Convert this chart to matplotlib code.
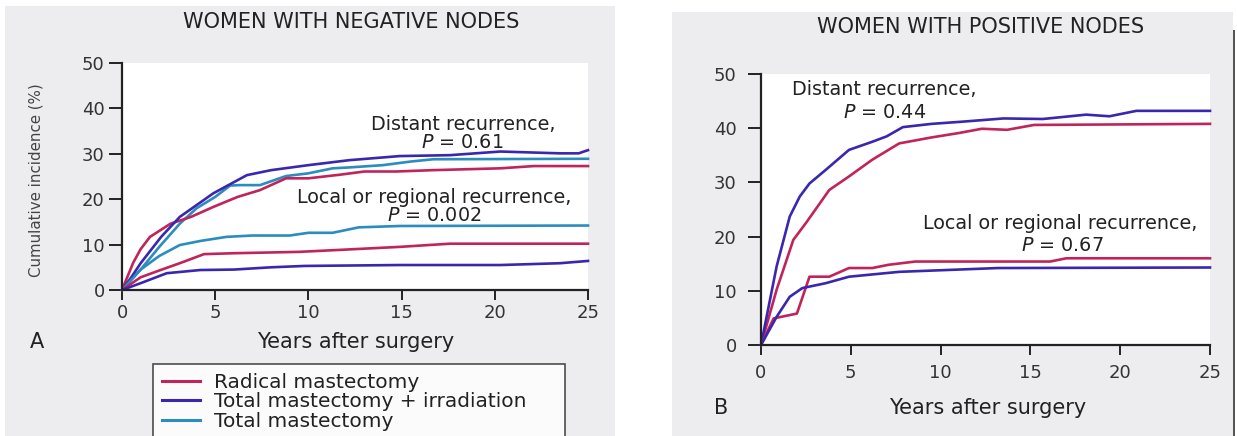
import matplotlib
matplotlib.use("Agg")
import matplotlib.pyplot as plt
from matplotlib.patches import Rectangle

plt.rcParams['font.family'] = ['DejaVu Sans']
plt.rcParams['mathtext.fontset'] = 'dejavusans'

# ---- data (years after surgery, cumulative incidence %) ----
# women with negative nodes
neg_rad_dist_x = [0, 0.3, 0.6, 1.0, 1.5, 2.6, 3.7, 4.9, 6.2, 7.4, 8.8, 10, 11.7, 13, 14.7, 16.7, 20.3, 22.1, 25]
neg_rad_dist_y = [0, 3.0, 6.0, 9.0, 11.7, 14.6, 16.1, 18.3, 20.5, 22.0, 24.6, 24.6, 25.4, 26.1, 26.1, 26.4, 26.8, 27.3, 27.3]
neg_tmi_dist_x = [0, 0.5, 1.0, 2.1, 3.1, 4.9, 6.7, 8.0, 10, 12.2, 14.9, 17.6, 20.3, 23.5, 24.5, 25]
neg_tmi_dist_y = [0, 2.8, 5.9, 11.7, 16.1, 21.3, 25.3, 26.4, 27.5, 28.6, 29.5, 29.7, 30.5, 30.1, 30.1, 30.8]
neg_tm_dist_x = [0, 1.0, 2.0, 3.1, 4.0, 5.0, 5.8, 6.3, 7.4, 8.8, 10, 11.3, 12.2, 14.0, 15.5, 16.7, 25]
neg_tm_dist_y = [0, 4.5, 9.5, 14.6, 18.0, 20.5, 23.0, 23.1, 23.1, 25.1, 25.7, 26.8, 27.0, 27.5, 28.3, 28.8, 28.9]

neg_rad_loc_x = [0, 1, 2, 3.1, 4.4, 6, 9.5, 12, 14.9, 17.6, 25]
neg_rad_loc_y = [0, 2.8, 4.3, 5.9, 7.9, 8.1, 8.4, 8.9, 9.5, 10.2, 10.2]
neg_tmi_loc_x = [0, 1, 2.4, 4.2, 6, 8, 9.8, 14.9, 20.3, 23.5, 25]
neg_tmi_loc_y = [0, 1.5, 3.7, 4.4, 4.5, 5.0, 5.3, 5.5, 5.5, 5.9, 6.4]
neg_tm_loc_x = [0, 1, 2, 3.1, 4.2, 5.6, 7, 9, 10, 11.3, 12.7, 14.9, 25]
neg_tm_loc_y = [0, 4.5, 7.5, 9.9, 10.8, 11.7, 12.0, 12.0, 12.6, 12.6, 13.8, 14.1, 14.2]

# women with positive nodes
pos_rad_dist_x = [0, 0.87, 1.8, 2.5, 3.8, 4.9, 6.2, 7.7, 9.5, 11.0, 12.3, 13.7, 15.2, 25]
pos_rad_dist_y = [0, 10.2, 19.4, 22.5, 28.6, 31.1, 34.2, 37.2, 38.3, 39.1, 39.9, 39.7, 40.6, 40.8]
pos_tmi_dist_x = [0, 0.87, 1.6, 2.16, 2.7, 3.6, 4.9, 6.2, 7.0, 7.9, 9.5, 11.2, 13.5, 15.7, 18.1, 19.4, 20.9, 25]
pos_tmi_dist_y = [0, 14.5, 23.7, 27.4, 29.8, 32.3, 36.0, 37.5, 38.5, 40.2, 40.8, 41.2, 41.8, 41.7, 42.5, 42.2, 43.2, 43.2]

pos_rad_loc_x = [0, 0.7, 2.0, 2.7, 3.8, 4.9, 6.2, 7.1, 8.6, 16.1, 17.0, 25]
pos_rad_loc_y = [0, 4.9, 5.8, 12.6, 12.6, 14.2, 14.2, 14.8, 15.4, 15.4, 16.0, 16.0]
pos_tmi_loc_x = [0, 0.87, 1.6, 2.3, 3.6, 4.9, 7.7, 13.2, 25]
pos_tmi_loc_y = [0, 5.2, 8.9, 10.5, 11.4, 12.6, 13.5, 14.2, 14.3]

legend_labels = ["Radical mastectomy", "Total mastectomy + irradiation", "Total mastectomy"]
x_ticks = [0, 5, 10, 15, 20, 25]
y_ticks = [0, 10, 20, 30, 40, 50]

RED = "#c0245a"
BLUE = "#3a27b0"
TEAL = "#2b8cc0"
INK = "#222222"
LW = 1.9

W, H = 1237, 436
fig = plt.figure(figsize=(W / 100, H / 100), dpi=100)
fig.patch.set_facecolor("white")


def px(x, y):
    return x / W, 1 - y / H


# scanned grey panels
fig.patches.append(Rectangle((5 / W, 0), 610 / W, 430 / H, transform=fig.transFigure,
                             facecolor="#ededf0", edgecolor="none", zorder=-5))
fig.patches.append(Rectangle((672 / W, 0), 561 / W, 424 / H, transform=fig.transFigure,
                             facecolor="#ededf0", edgecolor="none", zorder=-5))
fig.patches.append(Rectangle((1233 / W, 0), 2 / W, 406 / H, transform=fig.transFigure,
                             facecolor="#555555", edgecolor="none", zorder=-4))


def style_axes(ax, xpad, ypad):
    ax.set_xlim(0, 25)
    ax.set_ylim(0, 50)
    ax.set_facecolor("white")
    for s in ["top", "right"]:
        ax.spines[s].set_visible(False)
    for s in ["left", "bottom"]:
        ax.spines[s].set_linewidth(1.6)
        ax.spines[s].set_color(INK)
    ax.set_xticks(x_ticks)
    ax.set_yticks(y_ticks)
    ax.tick_params(direction="out", width=1.4, colors=INK, labelsize=13)
    ax.tick_params(axis="x", length=7, pad=xpad)
    ax.tick_params(axis="y", length=9.5, pad=ypad)
    for lab in ax.get_xticklabels() + ax.get_yticklabels():
        lab.set_color("#333333")


def ann(x, y, s, size=13.8):
    fig.text(*px(x, y), s, ha="center", va="center", fontsize=size, color=INK)


# ---- panel A ----
axA = fig.add_axes([122 / W, 1 - 290 / H, 466 / W, 227 / H])
style_axes(axA, 3, 3)
axA.plot(neg_tm_dist_x, neg_tm_dist_y, color=TEAL, lw=LW)
axA.plot(neg_rad_dist_x, neg_rad_dist_y, color=RED, lw=LW)
axA.plot(neg_tmi_dist_x, neg_tmi_dist_y, color=BLUE, lw=LW)
axA.plot(neg_tm_loc_x, neg_tm_loc_y, color=TEAL, lw=LW)
axA.plot(neg_rad_loc_x, neg_rad_loc_y, color=RED, lw=LW)
axA.plot(neg_tmi_loc_x, neg_tmi_loc_y, color=BLUE, lw=LW)
for ln in axA.lines:
    ln.set_clip_on(False)

ann(351, 22, "WOMEN WITH NEGATIVE NODES", 15)
fig.text(*px(36, 180), "Cumulative incidence (%)", ha="center", va="center",
         rotation=90, fontsize=10.8, color="#444444")
ann(356, 342, "Years after surgery", 15)
ann(37, 342, "A", 15)
ann(463, 124, "Distant recurrence,")
ann(462, 143, "$\\mathit{P}$ = 0.61")
ann(434, 197, "Local or regional recurrence,")
ann(434, 215, "$\\mathit{P}$ = 0.002")

handles = [plt.Line2D([], [], color=c, lw=2.2) for c in (RED, BLUE, TEAL)]
leg = fig.legend(handles, legend_labels, loc="upper left", mode="expand",
                 bbox_to_anchor=(153 / W, 1 - 364 / H, 412 / W, 0.0), fontsize=14.5,
                 frameon=True, fancybox=False, handlelength=1.9,
                 handletextpad=0.7, labelspacing=0.02, borderpad=0.45,
                 borderaxespad=0)
leg.get_frame().set_edgecolor(INK)
leg.get_frame().set_linewidth(1.2)
leg.get_frame().set_facecolor("white")
for t in leg.get_texts():
    t.set_color(INK)

# ---- panel B ----
axB = fig.add_axes([761 / W, 1 - 345 / H, 449 / W, 271 / H])
style_axes(axB, 7, 8)
axB.plot(pos_rad_dist_x, pos_rad_dist_y, color=RED, lw=LW)
axB.plot(pos_tmi_dist_x, pos_tmi_dist_y, color=BLUE, lw=LW)
axB.plot(pos_rad_loc_x, pos_rad_loc_y, color=RED, lw=LW)
axB.plot(pos_tmi_loc_x, pos_tmi_loc_y, color=BLUE, lw=LW)
for ln in axB.lines:
    ln.set_clip_on(False)

ann(981, 27, "WOMEN WITH POSITIVE NODES", 15)
ann(988, 408, "Years after surgery", 15)
ann(721, 408, "B", 15)
ann(884, 89, "Distant recurrence,")
ann(885, 112, "$\\mathit{P}$ = 0.44")
ann(1060, 223, "Local or regional recurrence,")
ann(1062, 245, "$\\mathit{P}$ = 0.67")

fig.savefig("out.png", dpi=100)
